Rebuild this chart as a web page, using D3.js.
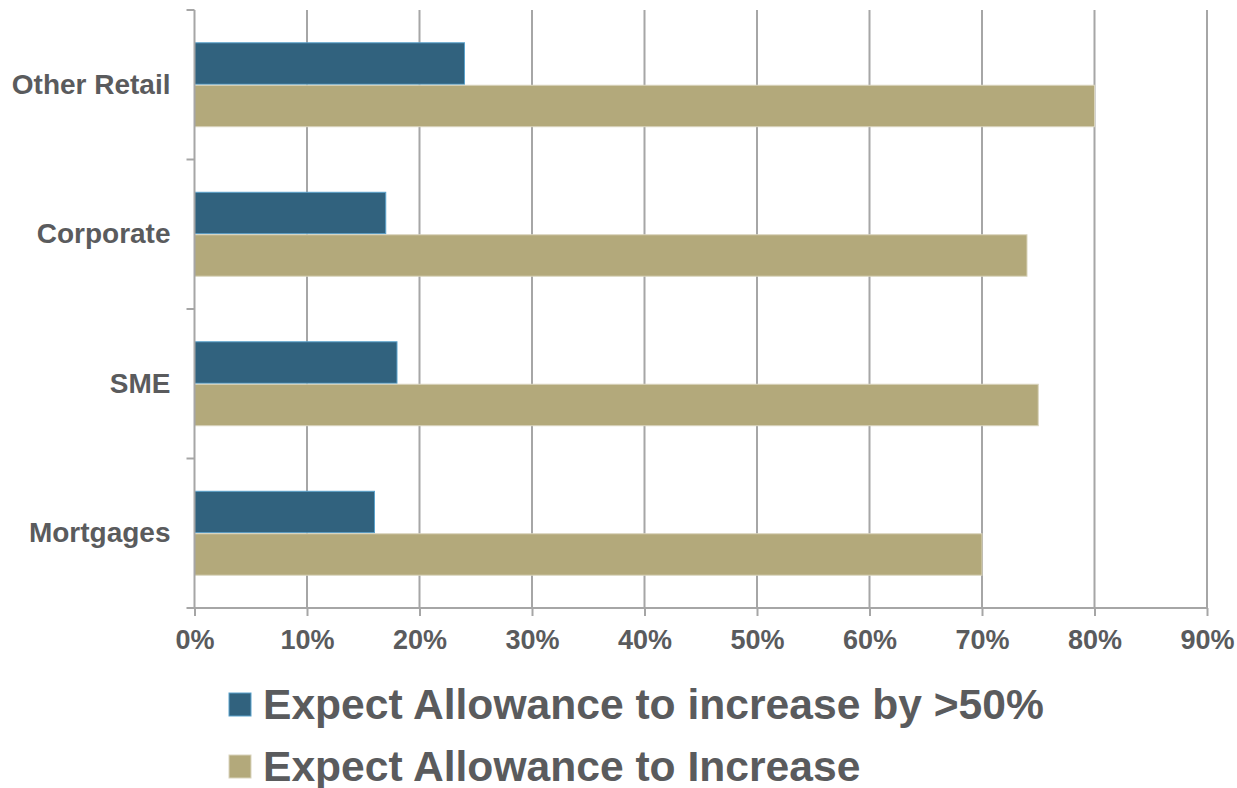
<!DOCTYPE html>
<html>
<head>
<meta charset="utf-8">
<script src="https://cdn.jsdelivr.net/npm/d3@7"></script>
<style>
  body { margin: 0; background: #fff; }
  text { font-family: "Liberation Sans", Arial, sans-serif; font-weight: bold; fill: #5a5b5d; }
</style>
</head>
<body>
<div id="chart"></div>
<script>
// categories top to bottom
var categories = ["Other Retail", "Corporate", "SME", "Mortgages"];
var seriesNames = ["Expect Allowance to increase by >50%", "Expect Allowance to Increase"];
var over50 = [0.24, 0.17, 0.18, 0.16];
var increase = [0.80, 0.74, 0.75, 0.70];
var xTicks = [0, 0.1, 0.2, 0.3, 0.4, 0.5, 0.6, 0.7, 0.8, 0.9];
var colors = ["#31627e", "#b3a97b"];
var strokes = ["#5aa2cc", "#d9d4bd"];

(function () {
  var width = 1237, height = 788;
  var plotLeft = 194.5, plotRight = 1207, plotTop = 10, plotBottom = 608;
  var gridColor = "#a6a6a6";
  var textColor = "#5a5b5d";

  var data = categories.map(function(c, i){
    return { cat: c, values: [ {s: 0, v: over50[i]}, {s: 1, v: increase[i]} ] };
  });

  var svg = d3.select("#chart").append("svg")
    .attr("width", width)
    .attr("height", height);

  var x = d3.scaleLinear().domain([0, 0.9]).range([plotLeft, plotRight]);
  var y0 = d3.scaleBand().domain(categories).range([plotTop, plotBottom]).padding(0);
  var y1 = d3.scaleBand().domain([0, 1]).range([0, y0.step()]).paddingInner(0).paddingOuter(0.76);

  /* gridlines */
  svg.append("g")
    .selectAll("line")
    .data(xTicks.slice(1)).enter()
    .append("line")
    .attr("x1", d => x(d)).attr("x2", d => x(d))
    .attr("y1", plotTop).attr("y2", plotBottom)
    .attr("stroke", gridColor)
    .attr("stroke-width", 2);

  /* bars */
  var groups = svg.append("g").selectAll("g")
    .data(data).enter()
    .append("g")
    .attr("transform", d => `translate(0, ${y0(d.cat)})`);

  groups.selectAll("rect")
    .data(d => d.values).enter()
    .append("rect")
    .attr("x", x(0))
    .attr("y", d => y1(d.s) + 0.5)
    .attr("width", d => x(d.v) - x(0))
    .attr("height", y1.bandwidth() - 1)
    .attr("fill", d => colors[d.s])
    .attr("stroke", d => strokes[d.s])
    .attr("stroke-width", 1);

  /* x axis */
  var xAxis = d3.axisBottom(x)
    .tickValues(xTicks)
    .tickSize(8)
    .tickPadding(14)
    .tickFormat(d3.format(".0%"));

  var gx = svg.append("g")
    .attr("transform", `translate(0, ${plotBottom})`)
    .call(xAxis);
  gx.select(".domain").remove();
  gx.selectAll(".tick line").attr("stroke", gridColor).attr("stroke-width", 2);
  gx.selectAll(".tick text")
    .style("font-size", "27px")
    .style("font-family", "'Liberation Sans', Arial, sans-serif")
    .style("font-weight", "bold")
    .attr("fill", textColor);

  svg.append("line")
    .attr("x1", plotLeft - 8).attr("x2", plotRight)
    .attr("y1", plotBottom).attr("y2", plotBottom)
    .attr("stroke", gridColor)
    .attr("stroke-width", 2);

  /* y axis */
  var yAxis = d3.axisLeft(y0).tickSize(0).tickPadding(24);
  var gy = svg.append("g")
    .attr("transform", `translate(${plotLeft}, 0)`)
    .call(yAxis);
  gy.select(".domain").remove();
  gy.selectAll(".tick text")
    .style("font-size", "28px")
    .style("font-family", "'Liberation Sans', Arial, sans-serif")
    .style("font-weight", "bold")
    .attr("fill", textColor);

  svg.append("line")
    .attr("x1", plotLeft).attr("x2", plotLeft)
    .attr("y1", plotTop).attr("y2", plotBottom)
    .attr("stroke", gridColor)
    .attr("stroke-width", 2);

  // little ticks between the categories
  var bounds = categories.map(c => y0(c));
  svg.append("g").selectAll("line")
    .data(bounds).enter()
    .append("line")
    .attr("x1", plotLeft - 8).attr("x2", plotLeft)
    .attr("y1", d => d).attr("y2", d => d)
    .attr("stroke", gridColor)
    .attr("stroke-width", 2);

  /* legend */
  var legend = svg.append("g").selectAll("g")
    .data(seriesNames).enter()
    .append("g")
    .attr("transform", (d, i) => `translate(229, ${693 + i * 62})`);

  legend.append("rect")
    .attr("x", 0).attr("y", 0)
    .attr("width", 22).attr("height", 23)
    .attr("fill", (d, i) => colors[i])
    .attr("stroke", (d, i) => strokes[i])
    .attr("stroke-width", 1);

  legend.append("text")
    .attr("x", 34)
    .attr("y", 26)
    .style("font-size", "42.6px")
    .text(d => d);
})();
</script>
</body>
</html>
